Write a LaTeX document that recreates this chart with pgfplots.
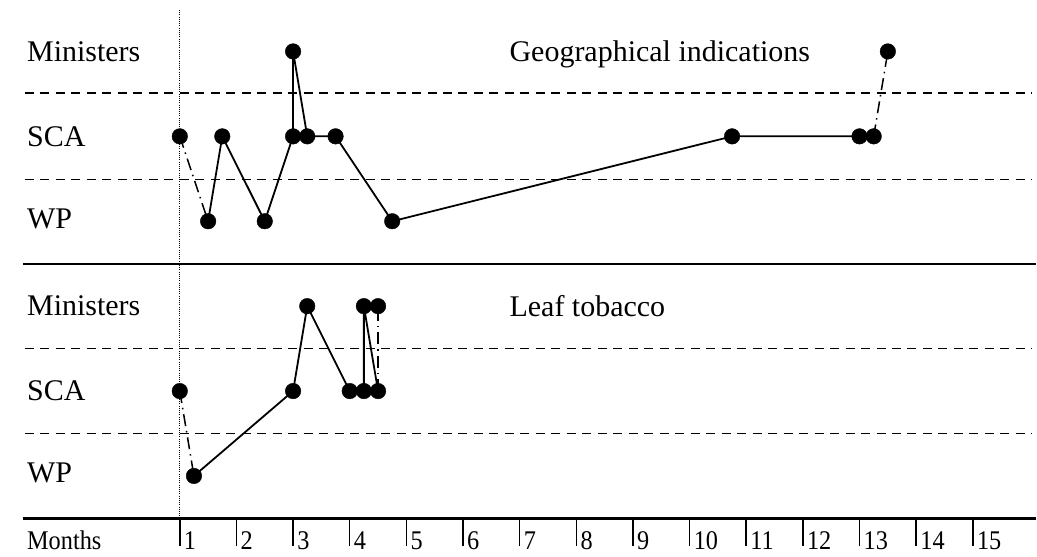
\documentclass[border=0pt]{standalone}
\usepackage{fontspec}
\setmainfont{Liberation Serif}
\usepackage{pgfplots}
\pgfplotsset{compat=1.18}
\tikzset{
  conn/.style={black, line width=1.8pt},
  dd/.style={black, line width=1.5pt, dash pattern=on 12pt off 5pt on 1.5pt off 5pt},
  lvl/.style={black, line width=1.5pt, dash pattern=on 9pt off 6.5pt},
  sep/.style={black, line width=2.4pt},
  big/.style={font=\fontsize{30}{36}\selectfont, inner sep=0pt},
  small/.style={font=\fontsize{27}{32}\selectfont, inner sep=0pt},
}
\newcommand{\nar}[1]{\scalebox{0.9}[1]{#1}}
\begin{document}
\begin{tikzpicture}
\begin{axis}[
  width=1037pt, height=557pt, scale only axis,
  xmin=-2.174, xmax=16.112, ymin=0.053, ymax=6.606,
  hide axis, clip=false,
]
\path (rel axis cs:0,0) rectangle (rel axis cs:1,1);

% level separators
\draw[lvl] (axis cs:-1.733,5.51) -- (axis cs:16.04,5.51);
\draw[lvl] (axis cs:-1.733,4.49) -- (axis cs:16.04,4.49);
\draw[lvl] (axis cs:-1.733,2.5) -- (axis cs:16.04,2.5);
\draw[lvl] (axis cs:-1.733,1.5) -- (axis cs:16.04,1.5);
\draw[sep] (axis cs:-1.77,3.5) -- (axis cs:16.112,3.5);
\draw[sep] (axis cs:-1.77,0.5) -- (axis cs:16.112,0.5);
% start of negotiations
\draw[black, line width=1pt, dash pattern=on 1pt off 1.2pt] (axis cs:1,6.488) -- (axis cs:1,0.5);

% month scale
\pgfplotsinvokeforeach{1,...,15}{
  \draw[black, line width=1.5pt] (axis cs:#1,0.5) -- (axis cs:#1,0.171);
  \node[small, anchor=base west, xshift=4pt] at (axis cs:#1,0.135) {\nar{#1}};
}
\node[small, anchor=base west] at (axis cs:-1.698,0.135) {\nar{Months}};

% row labels
\node[big, anchor=west] at (axis cs:-1.698,6) {Ministers};
\node[big, anchor=west] at (axis cs:-1.698,5) {SCA};
\node[big, anchor=west] at (axis cs:-1.698,4.03) {WP};
\node[big, anchor=west] at (axis cs:-1.698,3) {Ministers};
\node[big, anchor=west] at (axis cs:-1.698,2) {SCA};
\node[big, anchor=west] at (axis cs:-1.698,1.03) {WP};

\node[big, anchor=base west] at (axis cs:6.819,5.876) {Geographical indications};
\node[big, anchor=base west] at (axis cs:6.819,2.88) {Leaf tobacco};

% Geographical indications: WP=4, SCA=5, Ministers=6
\addplot[dd] coordinates {(1,5) (1.5,4)};
\addplot[dd] coordinates {(13.25,5) (13.5,6)};
\addplot[conn] coordinates {
  (1.5,4) (1.75,5) (2.5,4) (3,5) (3,6) (3.25,5) (3.75,5) (4.75,4)
  (10.75,5) (13,5) (13.25,5)
};
\addplot[only marks, mark=*, mark size=7.8pt, black] coordinates {
  (1,5) (1.5,4) (1.75,5) (2.5,4) (3,5) (3,6) (3.25,5) (3.75,5) (4.75,4)
  (10.75,5) (13,5) (13.25,5) (13.5,6)
};

% Leaf tobacco: WP=1, SCA=2, Ministers=3
\addplot[dd] coordinates {(1,2) (1.25,1)};
\addplot[dd] coordinates {(4.5,2) (4.5,3)};
\addplot[conn] coordinates {
  (1.25,1) (3,2) (3.25,3) (4,2) (4.25,2) (4.25,3) (4.5,2)
};
\addplot[only marks, mark=*, mark size=7.8pt, black] coordinates {
  (1,2) (1.25,1) (3,2) (3.25,3) (4,2) (4.25,2) (4.25,3) (4.5,2) (4.5,3)
};
\end{axis}
\end{tikzpicture}
\end{document}
